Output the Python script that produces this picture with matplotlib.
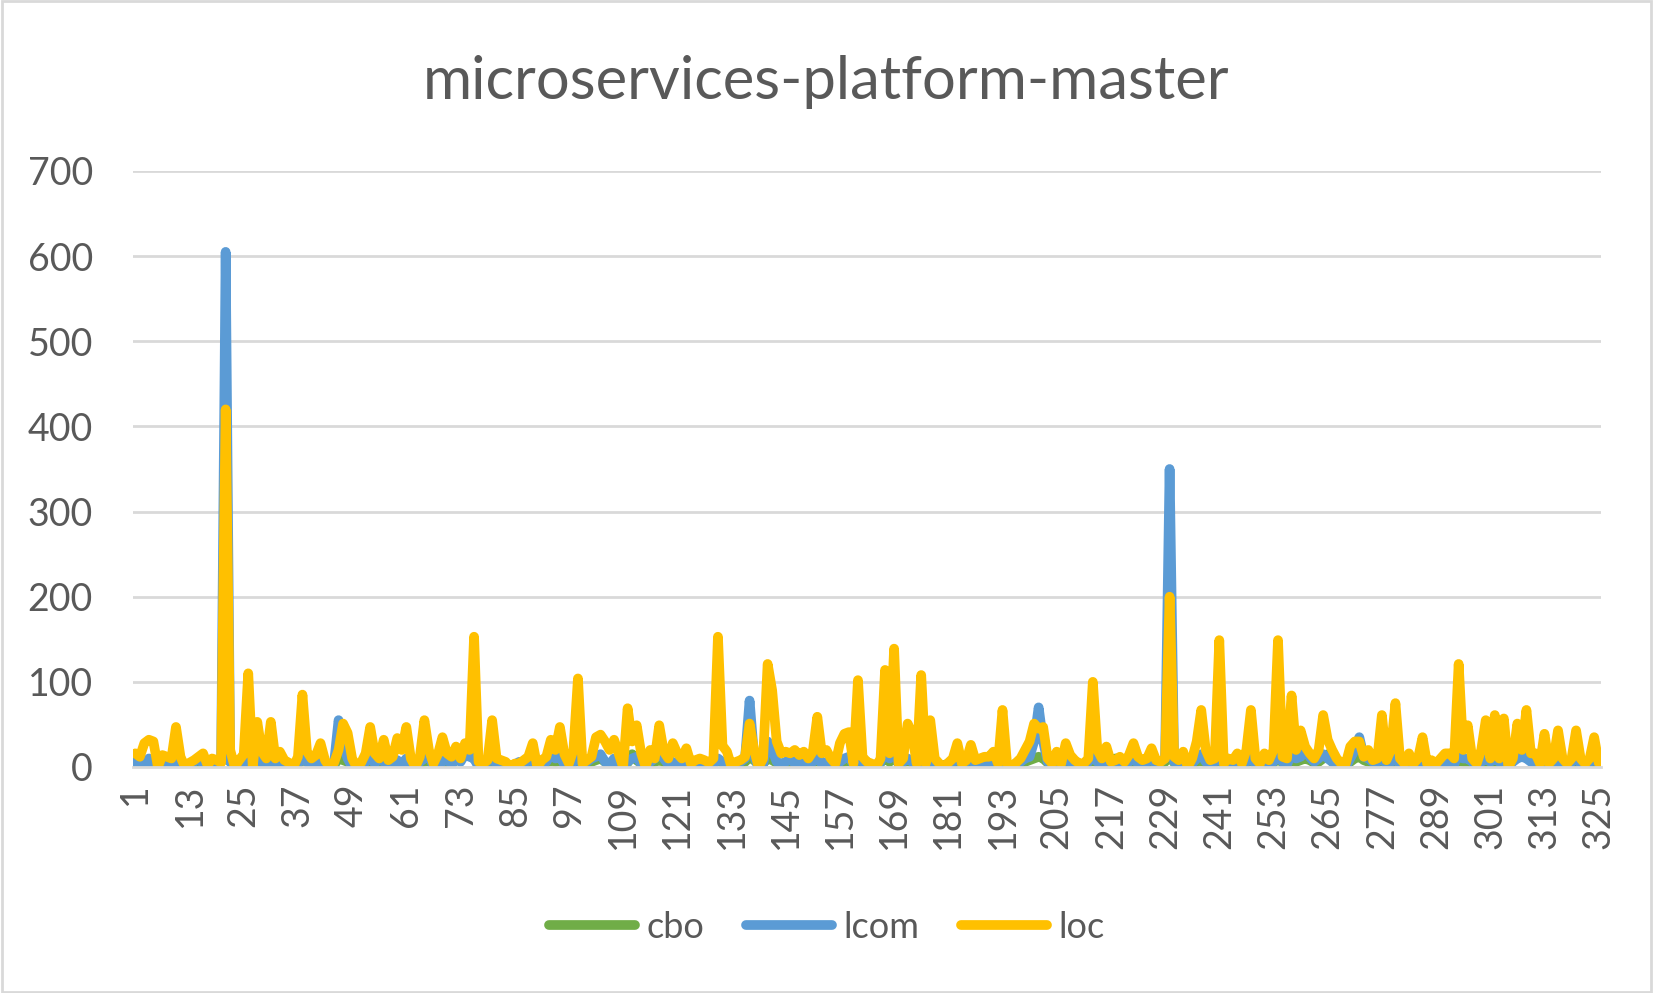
# plot.py
# Excel-style line chart: cbo / lcom / loc per class for microservices-platform-master
import matplotlib
matplotlib.use("Agg")
import matplotlib.pyplot as plt
from matplotlib.patches import Rectangle

# ── Data ────────────────────────────────────────────────
TITLE = "microservices-platform-master"

loc = [
    16, 12, 28, 32, 30, 0, 14, 12, 10, 47,
    12, 0, 5, 8, 12, 16, 2, 10, 8, 5,
    420, 20, 0, 8, 15, 110, 0, 53, 18, 10,
    53, 10, 18, 8, 5, 0, 12, 85, 18, 10,
    14, 28, 8, 0, 5, 20, 51, 40, 10, 0,
    5, 16, 47, 16, 10, 32, 8, 12, 34, 20,
    47, 10, 0, 12, 55, 20, 4, 15, 35, 16,
    12, 24, 10, 28, 20, 153, 6, 4, 8, 55,
    10, 8, 6, 0, 4, 4, 8, 12, 28, 0,
    8, 12, 32, 20, 47, 15, 4, 20, 104, 4,
    8, 12, 35, 38, 30, 20, 32, 16, 0, 69,
    30, 49, 16, 0, 20, 10, 49, 18, 10, 28,
    16, 10, 22, 4, 8, 10, 8, 5, 10, 153,
    25, 18, 0, 6, 8, 12, 51, 20, 0, 10,
    121, 90, 30, 16, 18, 16, 20, 14, 18, 10,
    18, 59, 16, 20, 10, 4, 28, 39, 41, 4,
    102, 12, 6, 4, 0, 10, 114, 16, 139, 4,
    10, 51, 39, 4, 108, 4, 55, 10, 4, 0,
    5, 10, 28, 4, 8, 26, 8, 10, 12, 12,
    18, 4, 67, 4, 0, 5, 10, 20, 30, 51,
    45, 47, 10, 4, 18, 4, 28, 14, 8, 4,
    4, 10, 100, 20, 10, 24, 6, 8, 12, 6,
    14, 28, 12, 8, 10, 22, 8, 6, 10, 200,
    12, 8, 18, 0, 10, 30, 67, 20, 8, 10,
    149, 4, 10, 8, 16, 4, 20, 67, 10, 4,
    16, 8, 20, 149, 12, 10, 84, 20, 43, 24,
    16, 10, 20, 61, 32, 20, 10, 4, 4, 24,
    30, 30, 12, 20, 8, 10, 61, 8, 20, 75,
    10, 4, 16, 4, 10, 35, 4, 8, 4, 10,
    16, 16, 10, 121, 20, 49, 10, 4, 20, 55,
    10, 61, 10, 57, 0, 10, 51, 20, 67, 16,
    16, 4, 39, 4, 10, 43, 10, 4, 10, 43,
    10, 4, 10, 35, 5,
]

lcom = [
    6, 4, 0, 10, 3, 2, 6, 8, 0, 4,
    3, 0, 1, 6, 10, 4, 0, 3, 2, 8,
    605, 6, 0, 3, 10, 2, 0, 12, 6, 3,
    15, 0, 3, 6, 0, 1, 4, 10, 6, 3,
    10, 3, 6, 0, 4, 55, 28, 10, 0, 3,
    0, 6, 12, 4, 10, 6, 0, 4, 8, 3,
    10, 3, 0, 6, 10, 15, 0, 4, 6, 10,
    3, 10, 6, 15, 12, 10, 0, 3, 6, 10,
    3, 0, 4, 1, 3, 6, 3, 10, 6, 0,
    4, 6, 15, 10, 12, 3, 0, 6, 10, 3,
    6, 10, 12, 15, 6, 3, 10, 3, 0, 6,
    10, 12, 3, 0, 6, 10, 15, 10, 3, 6,
    3, 6, 10, 0, 3, 4, 6, 0, 3, 10,
    6, 4, 0, 3, 6, 10, 78, 12, 0, 3,
    30, 20, 6, 3, 6, 10, 4, 6, 3, 4,
    6, 15, 3, 6, 4, 0, 6, 10, 12, 3,
    10, 6, 3, 0, 0, 6, 20, 10, 30, 3,
    6, 10, 6, 0, 15, 3, 10, 4, 0, 0,
    3, 6, 10, 3, 6, 10, 3, 6, 4, 6,
    6, 0, 10, 3, 0, 4, 6, 10, 12, 30,
    70, 30, 6, 0, 6, 3, 10, 6, 4, 3,
    0, 6, 15, 6, 3, 10, 3, 6, 6, 3,
    6, 10, 4, 3, 6, 10, 3, 6, 10, 350,
    6, 3, 6, 0, 4, 10, 15, 6, 3, 6,
    20, 0, 6, 3, 6, 0, 6, 12, 3, 0,
    6, 3, 6, 20, 6, 3, 15, 10, 12, 18,
    12, 6, 10, 15, 10, 6, 3, 0, 0, 10,
    20, 35, 12, 10, 6, 6, 12, 3, 6, 10,
    3, 0, 6, 0, 3, 10, 0, 3, 0, 4,
    6, 6, 3, 15, 10, 10, 6, 0, 6, 10,
    6, 10, 6, 10, 0, 6, 10, 12, 10, 6,
    6, 0, 6, 0, 4, 10, 3, 0, 6, 10,
    4, 0, 6, 10, 3,
]

cbo = [
    5, 4, 3, 6, 5, 3, 4, 6, 3, 5,
    4, 3, 3, 5, 6, 4, 3, 4, 3, 6,
    12, 6, 3, 4, 6, 3, 2, 8, 5, 4,
    8, 3, 4, 5, 2, 3, 4, 8, 6, 4,
    6, 5, 4, 3, 2, 10, 8, 6, 0, 3,
    3, 5, 6, 4, 5, 6, 3, 4, 5, 4,
    6, 4, 2, 5, 6, 8, 3, 4, 5, 6,
    4, 8, 10, 18, 15, 10, 3, 4, 5, 6,
    4, 2, 3, 2, 3, 4, 3, 6, 5, 2,
    4, 5, 8, 6, 8, 4, 3, 5, 8, 4,
    5, 6, 8, 10, 6, 4, 6, 4, 2, 5,
    15, 8, 4, 3, 5, 6, 8, 6, 4, 5,
    4, 5, 6, 3, 4, 3, 4, 2, 4, 8,
    5, 4, 2, 4, 5, 6, 12, 8, 3, 4,
    10, 8, 5, 4, 5, 6, 4, 5, 4, 3,
    5, 8, 4, 5, 3, 2, 5, 6, 8, 4,
    8, 5, 4, 2, 3, 5, 10, 6, 12, 4,
    5, 8, 5, 3, 8, 4, 6, 3, 2, 2,
    4, 5, 6, 3, 5, 6, 4, 5, 4, 5,
    5, 3, 8, 4, 2, 4, 5, 6, 8, 10,
    12, 10, 5, 0, 5, 4, 6, 5, 4, 3,
    3, 5, 8, 5, 4, 6, 8, 10, 10, 6,
    5, 6, 4, 4, 5, 6, 4, 5, 6, 15,
    5, 4, 5, 2, 4, 6, 8, 5, 4, 5,
    10, 3, 5, 4, 5, 3, 5, 8, 4, 3,
    5, 4, 5, 10, 5, 4, 8, 6, 8, 10,
    8, 5, 6, 10, 15, 6, 4, 3, 3, 6,
    10, 12, 8, 6, 5, 5, 8, 4, 5, 6,
    4, 2, 5, 3, 4, 6, 3, 4, 3, 4,
    5, 5, 4, 8, 6, 6, 5, 3, 5, 6,
    5, 6, 5, 8, 3, 10, 14, 14, 12, 8,
    5, 3, 5, 3, 4, 6, 4, 3, 5, 6,
    4, 3, 5, 6, 4,
]

x = list(range(1, len(loc) + 1))
x_ticks = list(range(1, len(loc) + 1, 12))
y_ticks = [0, 100, 200, 300, 400, 500, 600, 700]

# ── Style ───────────────────────────────────────────────
TEXT_GREY = "#595959"
GRID_GREY = "#D9D9D9"
plt.rcParams["font.family"] = ["Lato", "DejaVu Sans"]

fig = plt.figure(figsize=(16.53, 9.93), dpi=100)
ax = fig.add_axes([0.0805, 0.2276, 0.888, 0.6002])

series = [("cbo", cbo, "#70AD47"), ("lcom", lcom, "#5B9BD5"), ("loc", loc, "#FFC000")]
for name, vals, col in series:
    ax.plot(x, vals, color=col, lw=7, label=name,
            solid_joinstyle="round", solid_capstyle="round")

ax.set_xlim(0.5, len(loc) + 0.5)
ax.set_ylim(0, 700)
ax.set_yticks(y_ticks)
ax.set_xticks(x_ticks)
ax.set_xticklabels([str(t) for t in x_ticks], rotation=90)
ax.tick_params(axis="both", length=0, labelsize=27, colors=TEXT_GREY)
ax.tick_params(axis="x", pad=12)
ax.tick_params(axis="y", pad=29)
for lbl in ax.get_yticklabels():
    lbl.set_horizontalalignment("right")

ax.grid(axis="y", color=GRID_GREY, lw=2)
ax.set_axisbelow(True)
for side in ["top", "right", "left"]:
    ax.spines[side].set_visible(False)
ax.spines["bottom"].set_color(GRID_GREY)
ax.spines["bottom"].set_linewidth(2)

fig.text(0.5, 0.917, TITLE, ha="center", va="center", fontsize=43, color=TEXT_GREY)

fig.legend(loc="center", bbox_to_anchor=(0.5, 0.066), ncol=3, frameon=False,
           fontsize=26, handlelength=2.4, handletextpad=0.3, columnspacing=1.15,
           labelcolor=TEXT_GREY)

# light outer border like the Excel chart area
fig.patches.append(Rectangle((0.001, 0.001), 0.998, 0.998, transform=fig.transFigure,
                             fill=False, edgecolor=GRID_GREY, lw=2))

plt.savefig("out.png", dpi=100)
